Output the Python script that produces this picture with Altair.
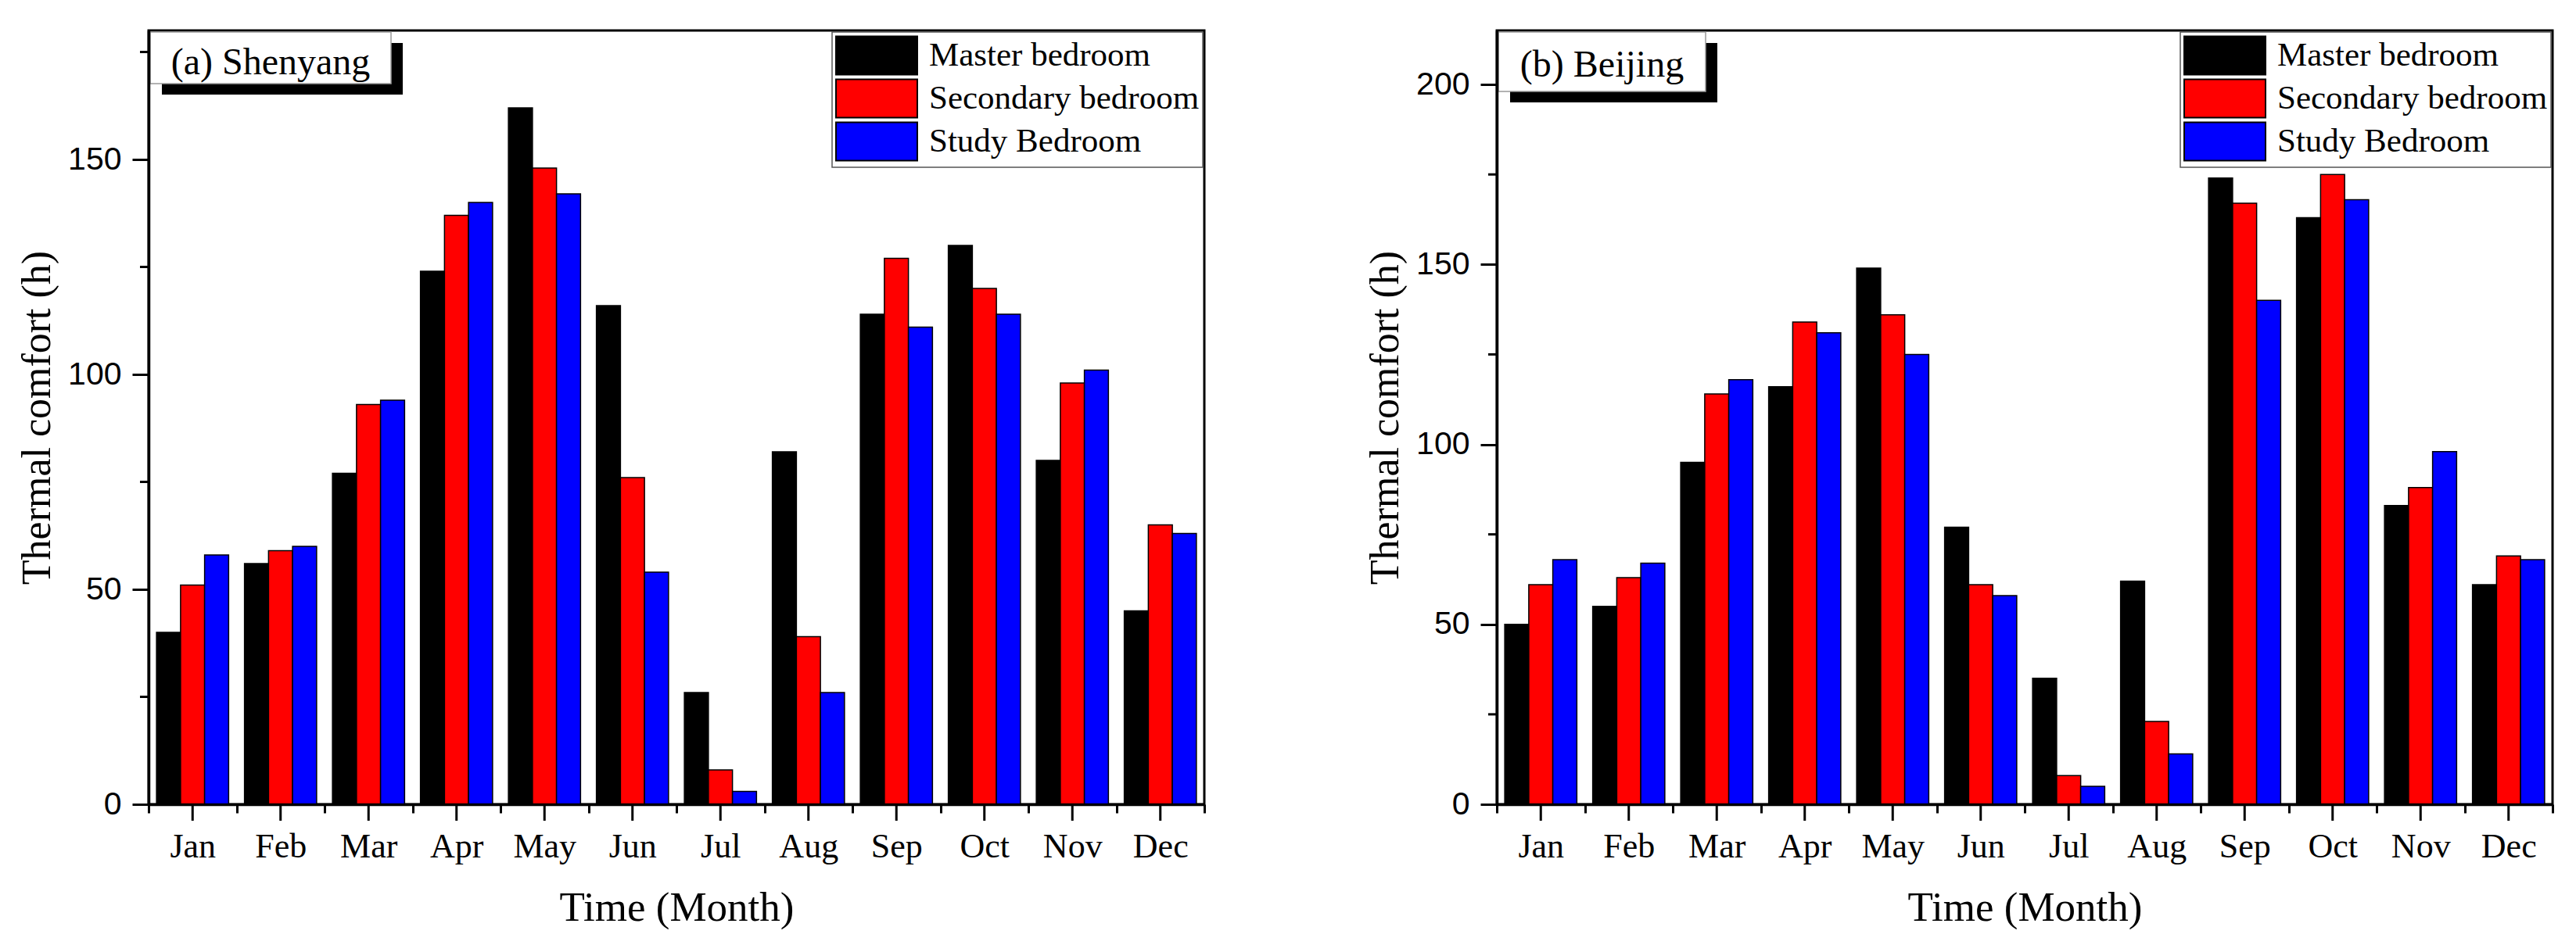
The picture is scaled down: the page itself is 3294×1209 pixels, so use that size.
import altair as alt
import pandas as pd

months = ["Jan", "Feb", "Mar", "Apr", "May", "Jun", "Jul", "Aug", "Sep", "Oct", "Nov", "Dec"]
rooms = ["Master bedroom", "Secondary bedroom", "Study Bedroom"]
room_colors = ["#000000", "#ff0000", "#0000ff"]

# (a) Shenyang
shenyang_master = [40, 56, 77, 124, 162, 116, 26, 82, 114, 130, 80, 45]
shenyang_secondary = [51, 59, 93, 137, 148, 76, 8, 39, 127, 120, 98, 65]
shenyang_study = [58, 60, 94, 140, 142, 54, 3, 26, 111, 114, 101, 63]

# (b) Beijing
beijing_master = [50, 55, 95, 116, 149, 77, 35, 62, 174, 163, 83, 61]
beijing_secondary = [61, 63, 114, 134, 136, 61, 8, 23, 167, 175, 88, 69]
beijing_study = [68, 67, 118, 131, 125, 58, 5, 14, 140, 168, 98, 68]

shenyang_major = [0, 50, 100, 150]
shenyang_minor = [25, 75, 125, 175]
beijing_major = [0, 50, 100, 150, 200]
beijing_minor = [25, 75, 125, 175]

W = 1350
H = 990
SERIF = "Liberation Serif"
SANS = "Liberation Sans"


def panel(master, secondary, study, label, y_max, major, minor, box_w, box_h, text_y):
    df = pd.DataFrame({
        "month": months * 3,
        "room": [r for r in rooms for _ in months],
        "hours": master + secondary + study,
    })
    y_scale = alt.Scale(domain=[0, y_max], nice=False)
    x_axis = alt.Axis(title="Time (Month)", tickBand="extent", tickSize=11, tickWidth=3,
                      domainWidth=3.5, labelAngle=0, labelFont=SERIF, labelFontSize=44,
                      labelPadding=21, titleFont=SERIF, titleFontSize=53,
                      titlePadding=30, zindex=1)
    y_axis = alt.Axis(title="Thermal comfort (h)", values=major, tickSize=21, tickWidth=3,
                      domainWidth=3.5, labelFont=SANS, labelFontSize=41, labelPadding=14,
                      titleFont=SERIF, titleFontSize=52, titlePadding=12, zindex=1)

    bars = alt.Chart(df).mark_bar(stroke="black", strokeWidth=1.5).encode(
        x=alt.X("month:N", sort=months,
                scale=alt.Scale(paddingInner=0, paddingOuter=0), axis=x_axis),
        xOffset=alt.XOffset("room:N", sort=rooms,
                            scale=alt.Scale(paddingInner=0, paddingOuter=0.33)),
        y=alt.Y("hours:Q", scale=y_scale, axis=y_axis),
        color=alt.Color("room:N", sort=rooms,
                        scale=alt.Scale(domain=rooms, range=room_colors),
                        legend=alt.Legend(title=None, orient="top-right", offset=2, padding=4,
                                          fillColor="white", strokeColor="#555555",
                                          symbolType="M-1,-0.98H3.16V0.98H-1Z", symbolSize=2500,
                                          symbolStrokeColor="black", symbolStrokeWidth=2,
                                          symbolOpacity=1, labelFont=SERIF, labelFontSize=43,
                                          labelOffset=68, labelLimit=700, rowPadding=-4)),
    )

    # long ticks at month centres
    major_x = alt.Chart(pd.DataFrame({"month": months})).mark_rule(
        color="black", strokeWidth=3
    ).encode(
        x=alt.X("month:N", sort=months, axis=x_axis),
        y=alt.value(H),
        y2=alt.value(H + 21),
    )

    # short minor ticks on the y axis
    minor_y = alt.Chart(pd.DataFrame({"hours": minor})).mark_rule(
        color="black", strokeWidth=3
    ).encode(
        y=alt.Y("hours:Q", scale=y_scale, axis=y_axis),
        x=alt.value(-11),
        x2=alt.value(0),
    )

    label_df = pd.DataFrame({"label": [label]})
    shadow = alt.Chart(label_df).mark_rect(color="black").encode(
        x=alt.value(17), x2=alt.value(17 + box_w),
        y=alt.value(16), y2=alt.value(16 + box_h),
    )
    box = alt.Chart(label_df).mark_rect(fill="white", stroke="#999999", strokeWidth=1.5).encode(
        x=alt.value(2), x2=alt.value(2 + box_w),
        y=alt.value(2), y2=alt.value(2 + box_h),
    )
    text = alt.Chart(label_df).mark_text(
        font=SERIF, fontSize=48, align="center", baseline="alphabetic", color="black"
    ).encode(
        x=alt.value(2 + box_w / 2),
        y=alt.value(text_y),
        text="label:N",
    )

    return alt.layer(bars, major_x, minor_y, shadow, box, text).properties(width=W, height=H)


left = panel(shenyang_master, shenyang_secondary, shenyang_study, "(a) Shenyang",
             180, shenyang_major, shenyang_minor, 308, 66, 56)
right = panel(beijing_master, beijing_secondary, beijing_study, "(b) Beijing",
              215, beijing_major, beijing_minor, 265, 76, 59)

chart = alt.hconcat(left, right, spacing=201).resolve_scale(
    color="independent", y="independent"
).resolve_legend(
    color="independent"
).properties(
    padding={"left": 12, "top": 29, "right": 5, "bottom": 5}
).configure_view(
    stroke="black", strokeWidth=3
).configure_axis(
    domainColor="black", tickColor="black", labelColor="black", titleColor="black",
    titleFontWeight="normal", grid=False
).configure_legend(
    strokeWidth=1.5
)

chart.save("out.html", embed_options={"renderer": "svg", "actions": False})
